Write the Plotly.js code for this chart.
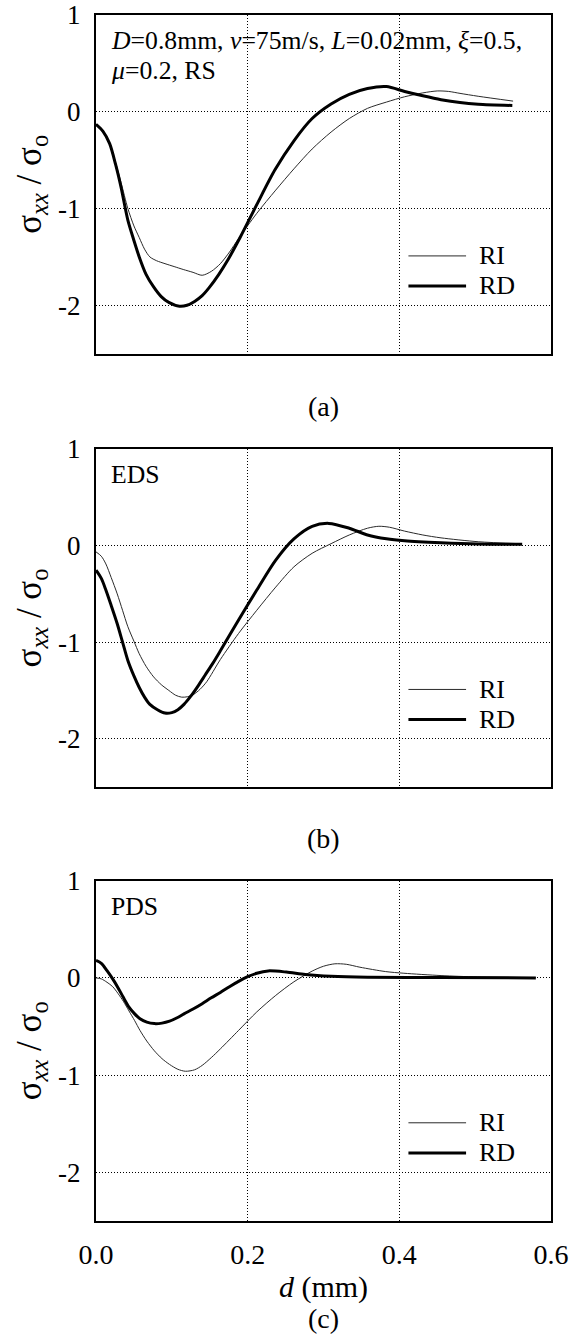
<!DOCTYPE html>
<html>
<head>
<meta charset="utf-8">
<script src="https://cdn.plot.ly/plotly-3.0.1.min.js"></script>
<style>html,body{margin:0;padding:0;background:#fff;}#chart{width:577px;height:1338px;}</style>
</head>
<body>
<div id="chart"></div>
<script>
// ---- Data ----
// Panel (a): RS
const dA_RD = [0, 0.009, 0.018, 0.026, 0.033, 0.042, 0.050, 0.057, 0.066, 0.076, 0.086, 0.096, 0.110, 0.120, 0.130, 0.140, 0.149, 0.162, 0.174, 0.190, 0.212, 0.236, 0.261, 0.285, 0.310, 0.334, 0.358, 0.383, 0.407, 0.431, 0.455, 0.480, 0.504, 0.549];
const sA_RD = [-0.13, -0.20, -0.33, -0.55, -0.78, -1.12, -1.33, -1.50, -1.68, -1.81, -1.91, -1.97, -2.01, -2.00, -1.96, -1.90, -1.82, -1.68, -1.53, -1.30, -0.96, -0.60, -0.30, -0.07, 0.08, 0.18, 0.24, 0.26, 0.21, 0.165, 0.125, 0.095, 0.078, 0.065];
const dA_RI = [0, 0.009, 0.018, 0.026, 0.033, 0.042, 0.050, 0.057, 0.064, 0.071, 0.080, 0.091, 0.103, 0.115, 0.128, 0.140, 0.152, 0.164, 0.176, 0.188, 0.212, 0.237, 0.261, 0.285, 0.310, 0.334, 0.358, 0.383, 0.407, 0.431, 0.450, 0.465, 0.480, 0.504, 0.550];
const sA_RI = [-0.14, -0.21, -0.33, -0.53, -0.73, -1.00, -1.18, -1.30, -1.42, -1.50, -1.54, -1.57, -1.60, -1.63, -1.66, -1.69, -1.65, -1.57, -1.45, -1.31, -1.05, -0.81, -0.59, -0.385, -0.21, -0.07, 0.035, 0.10, 0.155, 0.195, 0.215, 0.21, 0.19, 0.16, 0.11];

// Panel (b): EDS
const dB_RD = [0, 0.007, 0.013, 0.020, 0.028, 0.035, 0.042, 0.050, 0.057, 0.064, 0.071, 0.081, 0.091, 0.100, 0.108, 0.116, 0.125, 0.134, 0.144, 0.154, 0.164, 0.188, 0.212, 0.237, 0.261, 0.285, 0.307, 0.334, 0.358, 0.383, 0.407, 0.455, 0.504, 0.562];
const sB_RD = [-0.255, -0.34, -0.46, -0.62, -0.81, -1.00, -1.19, -1.35, -1.47, -1.57, -1.645, -1.70, -1.735, -1.73, -1.70, -1.645, -1.56, -1.46, -1.34, -1.22, -1.09, -0.77, -0.46, -0.15, 0.07, 0.20, 0.23, 0.18, 0.11, 0.07, 0.05, 0.03, 0.017, 0.014];
const dB_RI = [0, 0.007, 0.013, 0.020, 0.028, 0.035, 0.042, 0.050, 0.057, 0.066, 0.076, 0.086, 0.096, 0.105, 0.113, 0.121, 0.129, 0.137, 0.146, 0.164, 0.188, 0.212, 0.237, 0.261, 0.285, 0.310, 0.334, 0.358, 0.373, 0.387, 0.407, 0.431, 0.455, 0.504, 0.558];
const sB_RI = [-0.065, -0.11, -0.19, -0.33, -0.50, -0.67, -0.84, -0.99, -1.12, -1.25, -1.36, -1.44, -1.50, -1.55, -1.57, -1.565, -1.54, -1.49, -1.41, -1.18, -0.91, -0.67, -0.43, -0.22, -0.08, 0.02, 0.11, 0.18, 0.20, 0.19, 0.15, 0.11, 0.08, 0.04, 0.02];

// Panel (c): PDS
const dC_RD = [0, 0.007, 0.0145, 0.022, 0.029, 0.036, 0.0435, 0.051, 0.058, 0.067, 0.077, 0.087, 0.097, 0.107, 0.116, 0.128, 0.140, 0.152, 0.164, 0.176, 0.188, 0.200, 0.212, 0.227, 0.251, 0.276, 0.310, 0.358, 0.455, 0.580];
const sC_RD = [0.18, 0.15, 0.075, -0.01, -0.10, -0.20, -0.30, -0.37, -0.42, -0.455, -0.47, -0.465, -0.445, -0.41, -0.37, -0.32, -0.265, -0.205, -0.15, -0.09, -0.035, 0.012, 0.048, 0.072, 0.06, 0.035, 0.017, 0.007, 0.003, 0.0];
const dC_RI = [0, 0.007, 0.0145, 0.022, 0.029, 0.036, 0.0435, 0.051, 0.058, 0.067, 0.077, 0.087, 0.097, 0.108, 0.118, 0.130, 0.140, 0.152, 0.164, 0.188, 0.212, 0.237, 0.261, 0.285, 0.300, 0.315, 0.330, 0.348, 0.382, 0.406, 0.455, 0.503, 0.580];
const sC_RI = [0, -0.01, -0.045, -0.09, -0.16, -0.24, -0.34, -0.44, -0.54, -0.65, -0.75, -0.83, -0.89, -0.94, -0.96, -0.945, -0.90, -0.82, -0.73, -0.54, -0.35, -0.18, -0.04, 0.07, 0.12, 0.145, 0.14, 0.11, 0.065, 0.048, 0.024, 0.01, 0.003];

const seriesNames = ['RI', 'RD'];
const panelLabels = ['(a)', '(b)', '(c)'];
const noteLine1 = ['<i>D</i>=0.8mm, <i>v</i>=75m/s, <i>L</i>=0.02mm, <i>ξ</i>=0.5,', 'EDS', 'PDS'];
const noteLine2 = ['<i>μ</i>=0.2, RS', '', ''];
const xTickVals = [0, 0.2, 0.4, 0.6];
const xTickText = ['0.0', '0.2', '0.4', '0.6'];
const yTickVals = [1, 0, -1, -2];
const yTickText = ['1', '0', '-1', '-2'];

// ---- Styling ----
const FONT = '"Liberation Serif", "Times New Roman", serif';
const thin = {color: '#2a2a2a', width: 1, shape: 'spline', smoothing: 0.8};
const thick = {color: '#000', width: 3, shape: 'spline', smoothing: 0.8};
const styles = [thin, thick];

const panels = [
  {ri: [dA_RI, sA_RI], rd: [dA_RD, sA_RD]},
  {ri: [dB_RI, sB_RI], rd: [dB_RD, sB_RD]},
  {ri: [dC_RI, sC_RI], rd: [dC_RD, sC_RD]}
];
const suffix = ['', '2', '3'];
const traces = [];
panels.forEach((p, i) => {
  const xa = 'x' + suffix[i], ya = 'y' + suffix[i];
  traces.push({x: p.ri[0], y: p.ri[1], xaxis: xa, yaxis: ya, mode: 'lines', name: seriesNames[0], line: thin, showlegend: false, hoverinfo: 'skip'});
  traces.push({x: p.rd[0], y: p.rd[1], xaxis: xa, yaxis: ya, mode: 'lines', name: seriesNames[1], line: thick, showlegend: false, hoverinfo: 'skip'});
});

// plot area: x 96..551, y 15..1221
const PH = 1206;
const domains = [[0.7192, 1.0], [0.3599, 0.6401], [0.0, 0.2822]];
const layout = {
  width: 577, height: 1338,
  margin: {l: 96, r: 26, t: 15, b: 117},
  paper_bgcolor: '#fff', plot_bgcolor: '#fff',
  font: {family: FONT, size: 26, color: '#000'},
  showlegend: false,
  annotations: [],
  shapes: []
};
function xAxis(i) {
  return {
    domain: [0, 1], range: [0, 0.6], anchor: 'y' + suffix[i],
    tickvals: xTickVals, ticktext: xTickText, showticklabels: i === 2,
    ticks: '', showgrid: true, gridcolor: '#000', gridwidth: 1, griddash: '1px,2px',
    zeroline: false, showline: true, linecolor: '#000', linewidth: 2, mirror: true,
    tickfont: {family: FONT, size: 28}, ticklabelstandoff: 7,
    title: i === 2 ? {text: '<i>d</i> (mm)', font: {family: FONT, size: 30}, standoff: 7} : undefined,
    fixedrange: true
  };
}
function yAxis(i) {
  return {
    domain: domains[i], range: [-2.5, 1], anchor: 'x' + suffix[i],
    tickvals: yTickVals, ticktext: yTickText,
    ticks: '', showgrid: true, gridcolor: '#000', gridwidth: 1, griddash: '1px,2px',
    zeroline: false, showline: true, linecolor: '#000', linewidth: 2, mirror: true,
    tickfont: {family: FONT, size: 27}, ticklabelstandoff: 8, ticklabeloverflow: 'allow',
    title: {text: 'σ<sub><i>xx</i></sub> / σ<sub>o</sub>', font: {family: FONT, size: 35}, standoff: 6},
    fixedrange: true
  };
}
// legend key positions (in data units of each panel)
const keyX = [0.412, 0.488], keyTextX = 0.503, keyY = [-1.49, -1.80];
for (let i = 0; i < 3; i++) {
  const xa = 'x' + suffix[i], ya = 'y' + suffix[i];
  layout['xaxis' + suffix[i]] = xAxis(i);
  layout['yaxis' + suffix[i]] = yAxis(i);
  styles.forEach((st, k) => {
    layout.shapes.push({type: 'line', xref: xa, yref: ya, x0: keyX[0], x1: keyX[1], y0: keyY[k], y1: keyY[k],
      line: {color: st.color, width: st.width}});
    layout.annotations.push({text: seriesNames[k], xref: xa, yref: ya, x: keyTextX, y: keyY[k],
      xanchor: 'left', yanchor: 'middle', showarrow: false, font: {family: FONT, size: 26, color: '#000'}});
  });
  layout.annotations.push({
    text: noteLine1[i], xref: xa + ' domain', yref: ya + ' domain',
    x: 0.028, y: 1 - 26 / 339, xanchor: 'left', yanchor: 'middle', align: 'left', showarrow: false,
    font: {family: FONT, size: 25.7, color: '#000'}
  });
  if (noteLine2[i]) {
    layout.annotations.push({
      text: noteLine2[i], xref: xa + ' domain', yref: ya + ' domain',
      x: 0.028, y: 1 - 56 / 339, xanchor: 'left', yanchor: 'middle', align: 'left', showarrow: false,
      font: {family: FONT, size: 25.7, color: '#000'}
    });
  }
}
// panel captions (a), (b), (c)
const captionY = [407, 838, 1318];
captionY.forEach((py, i) => {
  layout.annotations.push({
    text: panelLabels[i], xref: 'paper', yref: 'paper',
    x: 0.5, y: (1221 - py) / PH, xanchor: 'center', yanchor: 'middle', showarrow: false,
    font: {family: FONT, size: 28, color: '#000'}
  });
});

Plotly.newPlot('chart', traces, layout, {staticPlot: true, displayModeBar: false});
</script>
</body>
</html>
